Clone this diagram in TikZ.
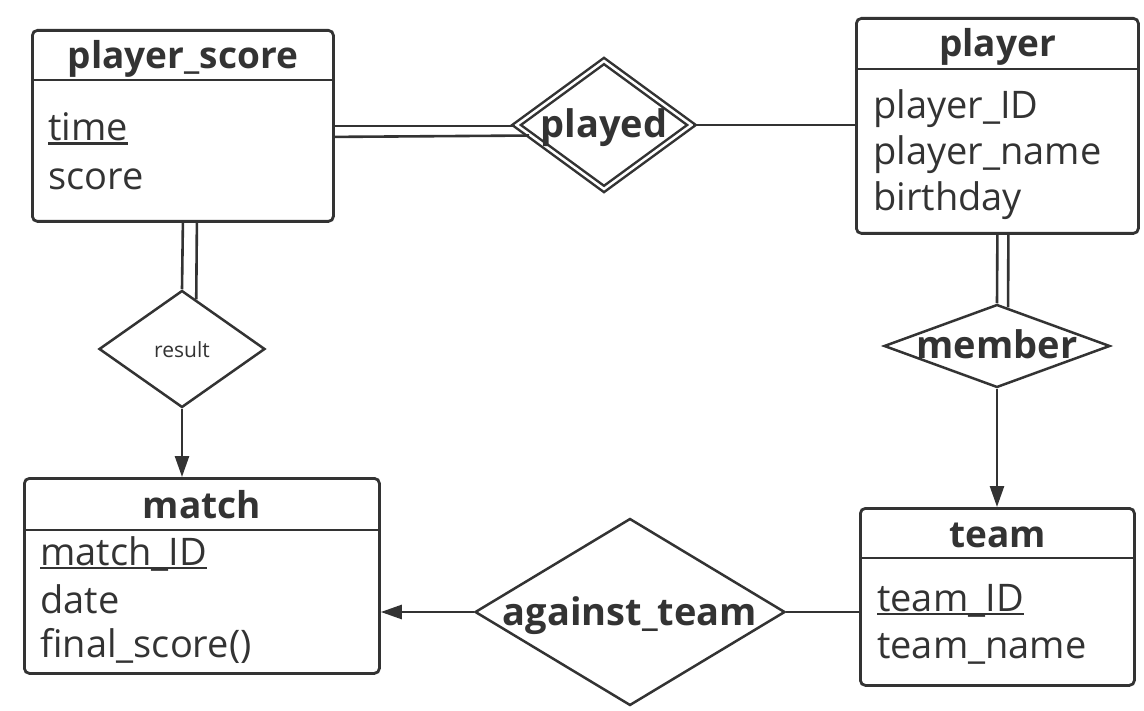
\documentclass[tikz,border=0pt]{standalone}
\usepackage{fontspec}
\setmainfont{Open Sans}
\usetikzlibrary{shapes.geometric, arrows.meta}
\definecolor{ink}{HTML}{333333}
\newcommand{\keyattr}[1]{\setbox0\hbox{#1}\rlap{\rule[-4pt]{\wd0}{2.5pt}}\box0}

\begin{document}
\begin{tikzpicture}[x=1pt, y=-1pt, >={Triangle[length=21pt, width=14pt]},
    entity/.style={draw=ink, line width=2.8pt, rounded corners=5pt, inner sep=0pt, anchor=north west},
    relation/.style={diamond, draw=ink, line width=2.5pt, inner sep=0pt, aspect=1, fill=white,
        text=ink, font=\fontsize{38}{40}\selectfont\bfseries, text height=30pt, text depth=4pt},
    headline/.style={ink, line width=2.5pt},
    title/.style={ink, font=\fontsize{37}{40}\selectfont\bfseries, anchor=base, inner sep=0pt},
    attr/.style={ink, font=\fontsize{38}{40}\selectfont, anchor=base west, inner sep=0pt},
    link/.style={ink, line width=2.6pt}]
    \useasboundingbox (0,0) rectangle (1144,711);

    % ===== entities =====
    \node[entity, minimum width=301pt, minimum height=191pt] (ps) at (31,29) {};
    \draw[headline] ([yshift=-51pt]ps.north west) -- ([yshift=-51pt]ps.north east);
    \node[title] (ps-title) at ([yshift=-40pt]ps.north) {player\_score};
    \node[attr] (ps-time) at (48,141) {\keyattr{time}};
    \node[attr] (ps-score) at (48,190) {score};

    \node[entity, minimum width=282pt, minimum height=215pt] (player) at (855,17) {};
    \draw[headline] ([yshift=-52pt]player.north west) -- ([yshift=-52pt]player.north east);
    \node[title] (player-title) at ([yshift=-40pt]player.north) {player};
    \node[attr] (player-id) at (873,119) {player\_ID};
    \node[attr] (player-name) at (873,165) {player\_name};
    \node[attr] (player-birthday) at (873,211) {birthday};

    \node[entity, minimum width=355pt, minimum height=195pt] (match) at (23,477) {};
    \draw[headline] ([yshift=-53pt]match.north west) -- ([yshift=-53pt]match.north east);
    \node[title] (match-title) at ([yshift=-41pt]match.north) {match};
    \node[attr] (match-id) at (40,565) {\keyattr{match\_ID}};
    \node[attr] (match-date) at (40,613) {date};
    \node[attr] (match-final) at (40,657) {final\_score()};

    \node[entity, minimum width=274pt, minimum height=177pt] (team) at (859,507) {};
    \draw[headline] ([yshift=-51pt]team.north west) -- ([yshift=-51pt]team.north east);
    \node[title] (team-title) at ([yshift=-40pt]team.north) {team};
    \node[attr] (team-id) at (877,611) {\keyattr{team\_ID}};
    \node[attr] (team-name) at (877,658) {team\_name};

    % ===== relations =====
    \node[relation, double=white, double distance=2.5pt, minimum width=176pt, minimum height=129pt]
        (played) at (604,125) {\makebox[0pt]{played}};
    \node[relation, minimum width=166pt, minimum height=117pt, font=\fontsize{21}{24}\selectfont,
        text height=20pt, text depth=2pt] (result) at (182,349) {\makebox[0pt]{result}};
    \node[relation, minimum width=226pt, minimum height=83pt] (member) at (997,346) {\makebox[0pt]{member}};
    \node[relation, minimum width=310pt, minimum height=187pt] (against) at (630,612) {\makebox[0pt]{against\_team}};

    % ===== connectors =====
    \draw[link] (ps.east) -- (ps.east -| played.west);
    \draw[link] ([yshift=-11pt]ps.east) -- (played.188);
    \draw[link] (played.east) -- (played.east -| player.west);

    \draw[link] (ps.south) -- (result.north);
    \draw[link] ([xshift=14pt]ps.south) -- (result.74);
    \draw[link, ->] (result.south) -- (result.south |- match.north);

    \draw[link] (player.south) -- (member.north);
    \draw[link] ([xshift=11pt]player.south) -- (member.74);
    \draw[link, ->] (member.south) -- (member.south |- team.north);

    \draw[link] (against.east) -- (against.east -| team.west);
    \draw[link, ->] (against.west) -- (against.west -| match.east);
\end{tikzpicture}
\end{document}
